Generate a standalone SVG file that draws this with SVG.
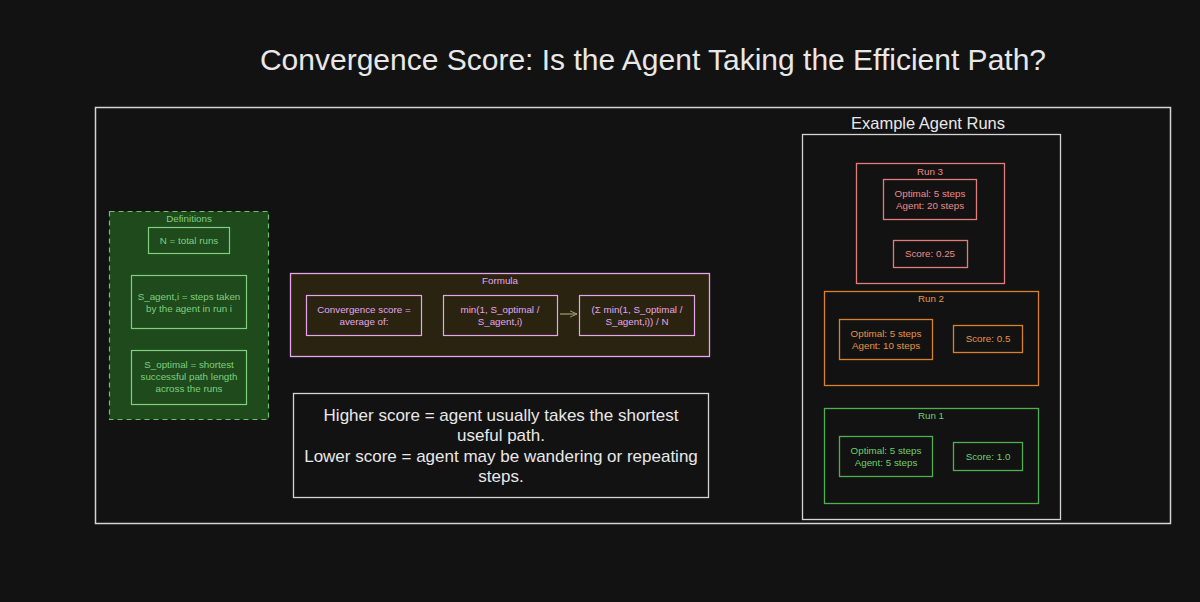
<svg xmlns="http://www.w3.org/2000/svg" width="1200" height="602" viewBox="0 0 1200 602">
<defs>
<style>
text{font-family:"Liberation Sans","DejaVu Sans",sans-serif;text-anchor:middle}
.t{fill:#e8e8e8}
.def{fill:#7fcf7f;font-size:9.8px}
.defb{fill:none;stroke:#7fcf7f;stroke-width:1.2}
.fm{fill:#e6a6ec;font-size:9.8px}
.fmb{fill:none;stroke:#e6a6ec;stroke-width:1.2}
.r3{fill:#ee8a8a;font-size:9.8px}
.r3b{fill:none;stroke:#e07c7c;stroke-width:1.3}
.r2{fill:#e59444;font-size:9.8px}
.r2b{fill:none;stroke:#d9822b;stroke-width:1.3}
.r1{fill:#6fcf6f;font-size:9.8px}
.r1b{fill:none;stroke:#4fae4f;stroke-width:1.3}
</style>
<marker id="ah" viewBox="0 0 10 10" refX="9" refY="5" markerWidth="8" markerHeight="8" orient="auto" markerUnits="userSpaceOnUse">
<path d="M0,1 L9,5 L0,9" fill="none" stroke="#a89a78" stroke-width="1.2"/>
</marker>
</defs>
<rect width="1200" height="602" fill="#121212"/>
<text class="t" x="653" y="70" font-size="30">Convergence Score: Is the Agent Taking the Efficient Path?</text>
<g id="frame">
<rect x="95.5" y="107.5" width="1075" height="416" fill="none" stroke="#d4d4d4" stroke-width="1.5"/>
</g>
<g id="definitions">
<rect x="109.5" y="211.5" width="159" height="208" fill="#1e4a1c" stroke="#6fbf6f" stroke-width="1.2" stroke-dasharray="5 4"/>
<text class="def" x="189" y="222">Definitions</text>
<g id="def-n">
<rect class="defb" x="148.5" y="227.5" width="81" height="26"/>
<text class="def" x="189" y="244">N = total runs</text>
</g>
<g id="def-agent">
<rect class="defb" x="131.5" y="275.5" width="115" height="53"/>
<text class="def" x="189" y="300">S_agent,i = steps taken</text>
<text class="def" x="189" y="312">by the agent in run i</text>
</g>
<g id="def-optimal">
<rect class="defb" x="131.5" y="350.5" width="115" height="54"/>
<text class="def" x="189" y="368">S_optimal = shortest</text>
<text class="def" x="189" y="380">successful path length</text>
<text class="def" x="189" y="392">across the runs</text>
</g>
</g>
<g id="formula">
<rect x="290.5" y="273.5" width="419" height="83" fill="#2a2310" stroke="#e6a6ec" stroke-width="1.3"/>
<text class="fm" x="500" y="284">Formula</text>
<g id="f-avg">
<rect class="fmb" x="306.5" y="295.5" width="115" height="40"/>
<text class="fm" x="364" y="313">Convergence score =</text>
<text class="fm" x="364" y="325">average of:</text>
</g>
<g id="f-min">
<rect class="fmb" x="443.5" y="295.5" width="114" height="40"/>
<text class="fm" x="500" y="313">min(1, S_optimal /</text>
<text class="fm" x="500" y="325">S_agent,i)</text>
</g>
<g id="f-sum">
<rect class="fmb" x="579.5" y="295.5" width="115" height="40"/>
<text class="fm" x="637" y="313">(Σ min(1, S_optimal /</text>
<text class="fm" x="637" y="325">S_agent,i)) / N</text>
</g>
</g>
<g id="connectors">
<line x1="560" y1="314" x2="577" y2="314" stroke="#a89a78" stroke-width="1.2" marker-end="url(#ah)"/>
</g>
<g id="note">
<rect x="293.5" y="393.5" width="415" height="104" fill="#121212" stroke="#d4d4d4" stroke-width="1.3"/>
<text class="t" x="501" y="421" font-size="17">Higher score = agent usually takes the shortest</text>
<text class="t" x="501" y="441" font-size="17">useful path.</text>
<text class="t" x="501" y="462" font-size="17">Lower score = agent may be wandering or repeating</text>
<text class="t" x="501" y="482" font-size="17">steps.</text>
</g>
<g id="runs">
<text class="t" x="928" y="129" font-size="16.5">Example Agent Runs</text>
<rect x="802.5" y="134.5" width="258" height="385" fill="none" stroke="#d4d4d4" stroke-width="1.3"/>
<g id="run3">
<rect class="r3b" x="856.5" y="163.5" width="148" height="120"/>
<text class="r3" x="930" y="175">Run 3</text>
<rect class="r3b" x="883.5" y="179.5" width="93" height="40"/>
<text class="r3" x="930" y="197">Optimal: 5 steps</text>
<text class="r3" x="930" y="209">Agent: 20 steps</text>
<rect class="r3b" x="893.5" y="240.5" width="74" height="27"/>
<text class="r3" x="930" y="257">Score: 0.25</text>
</g>
<g id="run2">
<rect class="r2b" x="824.5" y="291.5" width="214" height="94"/>
<text class="r2" x="931" y="302">Run 2</text>
<rect class="r2b" x="839.5" y="319.5" width="93" height="40"/>
<text class="r2" x="886" y="337">Optimal: 5 steps</text>
<text class="r2" x="886" y="349">Agent: 10 steps</text>
<rect class="r2b" x="953.5" y="325.5" width="69" height="27"/>
<text class="r2" x="988" y="342">Score: 0.5</text>
</g>
<g id="run1">
<rect class="r1b" x="824.5" y="408.5" width="214" height="95"/>
<text class="r1" x="931" y="419">Run 1</text>
<rect class="r1b" x="839.5" y="436.5" width="93" height="40"/>
<text class="r1" x="886" y="454">Optimal: 5 steps</text>
<text class="r1" x="886" y="466">Agent: 5 steps</text>
<rect class="r1b" x="953.5" y="442.5" width="69" height="28"/>
<text class="r1" x="988" y="460">Score: 1.0</text>
</g>
</g>
</svg>
